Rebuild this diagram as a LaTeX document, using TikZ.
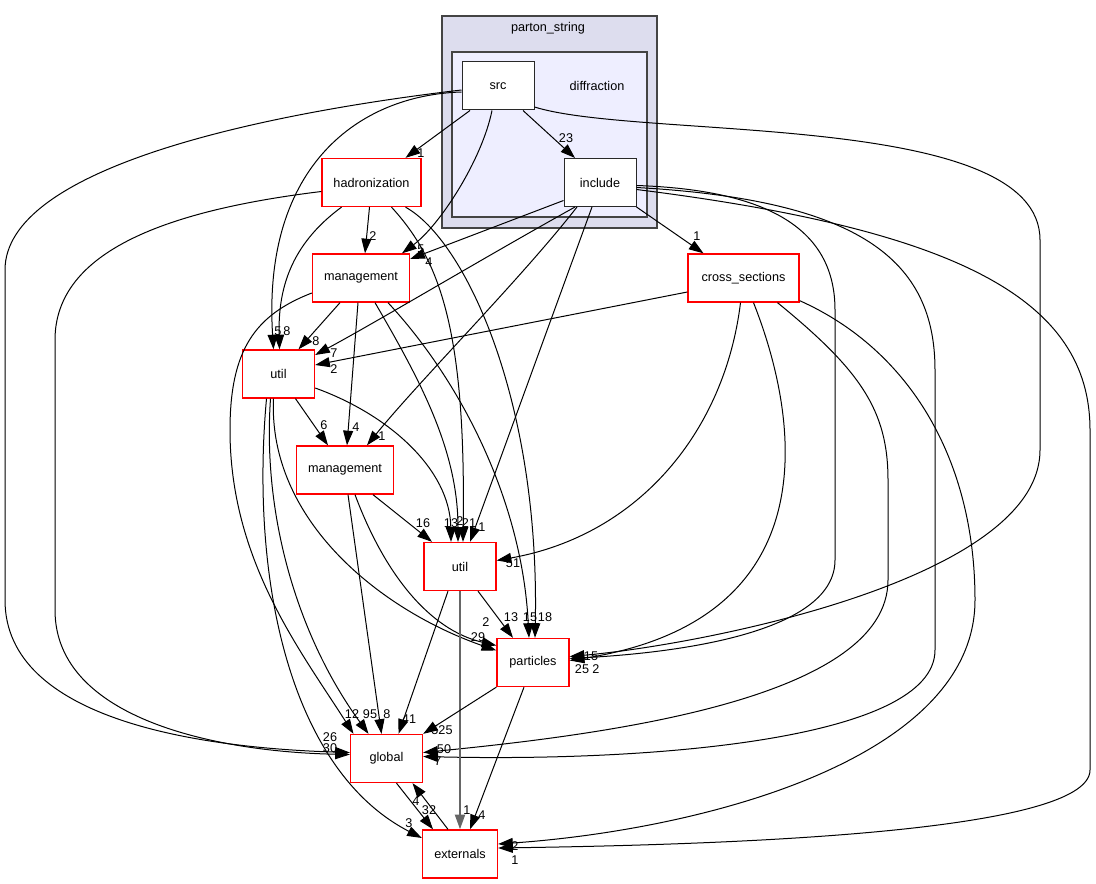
\documentclass[tikz,border=0pt]{standalone}
\usepackage{fontspec}
\setmainfont{Liberation Sans}
\usetikzlibrary{calc,arrows.meta}

\begin{document}
\begin{tikzpicture}[x=0.75pt,y=0.75pt,yscale=-1,xscale=1,
  dirbox/.style={draw={rgb,255:red,40;green,40;blue,40}, fill=white, line width=0.75pt, minimum width=54pt, minimum height=36pt, inner sep=0pt, font=\fontsize{9.5}{11}\selectfont},
  redbox/.style={dirbox, draw={rgb,255:red,255;green,0;blue,0}, line width=1pt},
  dep/.style={line width=0.75pt, -{Triangle[length=11pt,width=7.5pt]}},
  thickdep/.style={dep, draw={rgb,255:red,102;green,102;blue,102}, line width=1.5pt},
  lbl/.style={inner sep=0.75pt, font=\fontsize{9.5}{11}\selectfont}]
\useasboundingbox (0,0) rectangle (1096,884);

%Shape: Rectangle [parton_string]
\draw [draw={rgb,255:red,68;green,68;blue,68}, fill={rgb,255:red,221;green,221;blue,238}, line width=1pt] (442,16) rectangle (657,228);
%Shape: Rectangle [diffraction]
\draw [draw={rgb,255:red,68;green,68;blue,68}, fill={rgb,255:red,238;green,238;blue,255}, line width=1pt] (452,52) rectangle (647,217);
% Text Node
\draw (548,28) node [lbl] (pslbl) {parton\_string};
% Text Node
\draw (597,86) node [lbl] (dflbl) {diffraction};

%Shape: Directories
\node [dirbox] (src) at (498,86) {src};
\node [dirbox] (incl) at (600,182.5) {include};
\node [redbox, minimum width=74.25pt] (hadr) at (371.5,182.5) {hadronization};
\node [redbox, minimum width=72.75pt] (mgmt) at (361,278) {management};
\node [redbox, minimum width=83.25pt] (cross) at (743.5,278) {cross\_sections};
\node [redbox] (util) at (278.5,374) {util};
\node [redbox, minimum width=72.75pt] (mgmtb) at (345,470) {management};
\node [redbox] (utilb) at (460,566.5) {util};
\node [redbox] (part) at (533,662.5) {particles};
\node [redbox] (glob) at (386.5,758.5) {global};
\node [redbox, minimum width=56.25pt] (ext) at (460,854) {externals};

%Straight Lines [src]
\draw [dep] ($(src.south)+(-28,0)$) -- ($(hadr.north)+(34,0)$);
\draw [dep] ($(src.south)+(25,0)$) -- ($(incl.north)+(-25,0)$);
%Curve Lines [src]
\draw [dep] ($(src.west)+(0,6)$) .. controls (360,95) and (262,165) .. ($(util.north)+(-5,0)$);
\draw [dep] ($(src.south)+(-6,0)$) .. controls (482,160) and (440,225) .. ($(mgmt.north)+(41,0)$);
\draw [dep] ($(src.east)+(0,21)$) .. controls (640,140) and (1040,110) .. (1040,240) -- (1040,450) .. controls (1040,580) and (700,645) .. ($(part.east)+(0,-6)$);
\draw [dep] ($(src.west)+(0,4)$) .. controls (250,115) and (5,170) .. (5,270) -- (5,600) .. controls (5,720) and (200,748) .. ($(glob.west)+(0,-6)$);

%Straight Lines [include]
\draw [dep] ($(incl.west)+(0,18)$) -- ($(mgmt.east)+(0,-19)$);
\draw [dep] (incl.south east) -- ($(cross.north)+(-40,0)$);
\draw [dep] ($(incl.south)+(-8,0)$) -- ($(utilb.north)+(10,0)$);
%Curve Lines [include]
\draw [dep] ($(incl.south)+(-25,0)$) .. controls (480,260) and (380,320) .. ($(util.east)+(0,-19)$);
\draw [dep] ($(incl.south)+(-23,0)$) .. controls (520,280) and (420,380) .. ($(mgmtb.north)+(22,0)$);
\draw [dep] ($(incl.east)+(0,3)$) .. controls (770,190) and (835,230) .. (835,310) -- (835,560) .. controls (835,630) and (690,652) .. ($(part.east)+(0,-4)$);
\draw [dep] ($(incl.east)+(0,5)$) .. controls (860,200) and (935,260) .. (935,370) -- (935,650) .. controls (935,740) and (650,762) .. ($(glob.east)+(0,-2)$);
\draw [dep] ($(incl.east)+(0,7)$) .. controls (960,230) and (1090,300) .. (1090,430) -- (1090,770) .. controls (1090,835) and (700,845) .. ($(ext.east)+(0,-6)$);

%Straight Lines [hadronization]
\draw [dep] ($(hadr.south)+(-2,0)$) -- ($(mgmt.north)+(4,0)$);
%Curve Lines [hadronization]
\draw [dep] ($(hadr.south)+(-30,0)$) .. controls (290,245) and (278,290) .. ($(util.north)+(1,0)$);
\draw [dep] ($(hadr.south)+(20,0)$) .. controls (440,260) and (466,330) .. ($(utilb.north)+(3,0)$);
\draw [dep] ($(hadr.south)+(34,0)$) .. controls (465,240) and (540,400) .. ($(part.north)+(2,0)$);
\draw [dep] ($(hadr.west)+(0,9)$) .. controls (170,210) and (55,250) .. (55,340) -- (55,610) .. controls (55,720) and (220,752) .. ($(glob.west)+(0,-4)$);

%Straight Lines [management]
\draw [dep] ($(mgmt.south)+(-21,0)$) -- ($(util.north)+(20,0)$);
\draw [dep] ($(mgmt.south)+(-3,0)$) -- ($(mgmtb.north)+(2,0)$);
%Curve Lines [management]
\draw [dep] ($(mgmt.south)+(14,0)$) .. controls (420,380) and (458,450) .. ($(utilb.north)+(-2,0)$);
\draw [dep] ($(mgmt.south)+(27,0)$) .. controls (460,380) and (522,500) .. ($(part.north)+(-4,0)$);
\draw [dep] ($(mgmt.west)+(0,15)$) .. controls (255,315) and (230,350) .. (230,430) .. controls (230,560) and (300,650) .. ($(glob.north)+(-33,0)$);

%Straight Lines [cross_sections]
\draw [dep] ($(cross.west)+(0,14)$) -- ($(util.east)+(0,-9)$);
%Curve Lines [cross_sections]
\draw [dep] ($(cross.south)+(-3,0)$) .. controls (725,430) and (640,535) .. ($(utilb.east)+(0,-6)$);
\draw [dep] ($(cross.south)+(10,0)$) .. controls (800,420) and (830,620) .. ($(part.east)+(0,-2)$);
\draw [dep] ($(cross.south)+(34,0)$) .. controls (860,370) and (888,410) .. (888,480) -- (888,580) .. controls (888,700) and (600,735) .. ($(glob.east)+(0,-6)$);
\draw [dep] ($(cross.south east)+(0,-2)$) .. controls (910,350) and (975,460) .. (975,600) .. controls (975,760) and (700,830) .. ($(ext.east)+(0,-10)$);

%Straight Lines [util]
\draw [dep] ($(util.south)+(17,0)$) -- ($(mgmtb.north)+(-17,0)$);
%Curve Lines [util]
\draw [dep] ($(util.east)+(0,14)$) .. controls (390,415) and (450,470) .. ($(utilb.north)+(-9,0)$);
\draw [dep] ($(util.south)+(-5,0)$) .. controls (268,520) and (380,610) .. ($(part.west)+(0,-12)$);
\draw [dep] ($(util.south)+(-8,0)$) .. controls (262,520) and (300,640) .. ($(glob.north)+(-18,0)$);
\draw [dep] ($(util.south)+(-12,0)$) .. controls (250,580) and (290,770) .. ($(ext.west)+(0,-16)$);

%Straight Lines [lower management]
\draw [dep] ($(mgmtb.south)+(28,0)$) -- ($(utilb.north)+(-28,0)$);
\draw [dep] ($(mgmtb.south)+(3,0)$) -- ($(glob.north)+(-5,0)$);
%Curve Lines [lower management]
\draw [dep] ($(mgmtb.south)+(10,0)$) .. controls (385,575) and (430,630) .. ($(part.west)+(0,-17)$);

%Straight Lines [lower util, particles, global, externals]
\draw [dep] ($(utilb.south)+(18,0)$) -- ($(part.north)+(-20,0)$);
\draw [dep] ($(utilb.south)+(-12,0)$) -- ($(glob.north)+(12,0)$);
\draw [thickdep] (utilb.south) -- (ext.north);
\draw [dep] (part.south west) -- (glob.north east);
\draw [dep] ($(part.south)+(-9,0)$) -- ($(ext.north)+(10,0)$);
\draw [dep] ($(glob.south)+(10,0)$) -- ($(ext.north)+(-27,0)$);
\draw [dep] ($(ext.north)+(-12,0)$) -- ($(glob.south)+(26,0)$);

% Text Node
\draw (421,153) node [lbl] (n1) {1};
\draw (566,138) node [lbl] (n2) {23};
\draw (278,331) node [lbl] (n3) {5};
\draw (421,249) node [lbl] (n4) {5};
\draw (591,656) node [lbl] (n5) {15};
\draw (330,737) node [lbl] (n6) {26};
\draw (429,262) node [lbl] (n7) {4};
\draw (697,236) node [lbl] (n8) {1};
\draw (334,353) node [lbl] (n9) {7};
\draw (382,436) node [lbl] (n10) {1};
\draw (482,527) node [lbl] (n11) {1};
\draw (582,669) node [lbl] (n12) {25};
\draw (444,749) node [lbl] (n13) {50};
\draw (515,846) node [lbl] (n14) {2};
\draw (373,236) node [lbl] (n15) {2};
\draw (287,331) node [lbl] (n16) {8};
\draw (469,523) node [lbl] (n17) {21};
\draw (545,617) node [lbl] (n18) {18};
\draw (330,748) node [lbl] (n19) {30};
\draw (316,341) node [lbl] (n20) {8};
\draw (356,427) node [lbl] (n21) {4};
\draw (460,521) node [lbl] (n22) {2};
\draw (530,617) node [lbl] (n23) {15};
\draw (352,714) node [lbl] (n24) {12};
\draw (334,369) node [lbl] (n25) {2};
\draw (513,563) node [lbl] (n26) {51};
\draw (596,669) node [lbl] (n27) {2};
\draw (438,761) node [lbl] (n28) {7};
\draw (515,860) node [lbl] (n29) {1};
\draw (324,425) node [lbl] (n30) {6};
\draw (451,523) node [lbl] (n31) {13};
\draw (478,637) node [lbl] (n32) {29};
\draw (370,714) node [lbl] (n33) {95};
\draw (409,823) node [lbl] (n34) {3};
\draw (423,523) node [lbl] (n35) {16};
\draw (387,714) node [lbl] (n36) {8};
\draw (486,622) node [lbl] (n37) {2};
\draw (511,617) node [lbl] (n38) {13};
\draw (409,719) node [lbl] (n39) {41};
\draw (467,810) node [lbl] (n40) {1};
\draw (442,730) node [lbl] (n41) {525};
\draw (482,815) node [lbl] (n42) {4};
\draw (429,810) node [lbl] (n43) {32};
\draw (416,801) node [lbl] (n44) {4};

\end{tikzpicture}
\end{document}
